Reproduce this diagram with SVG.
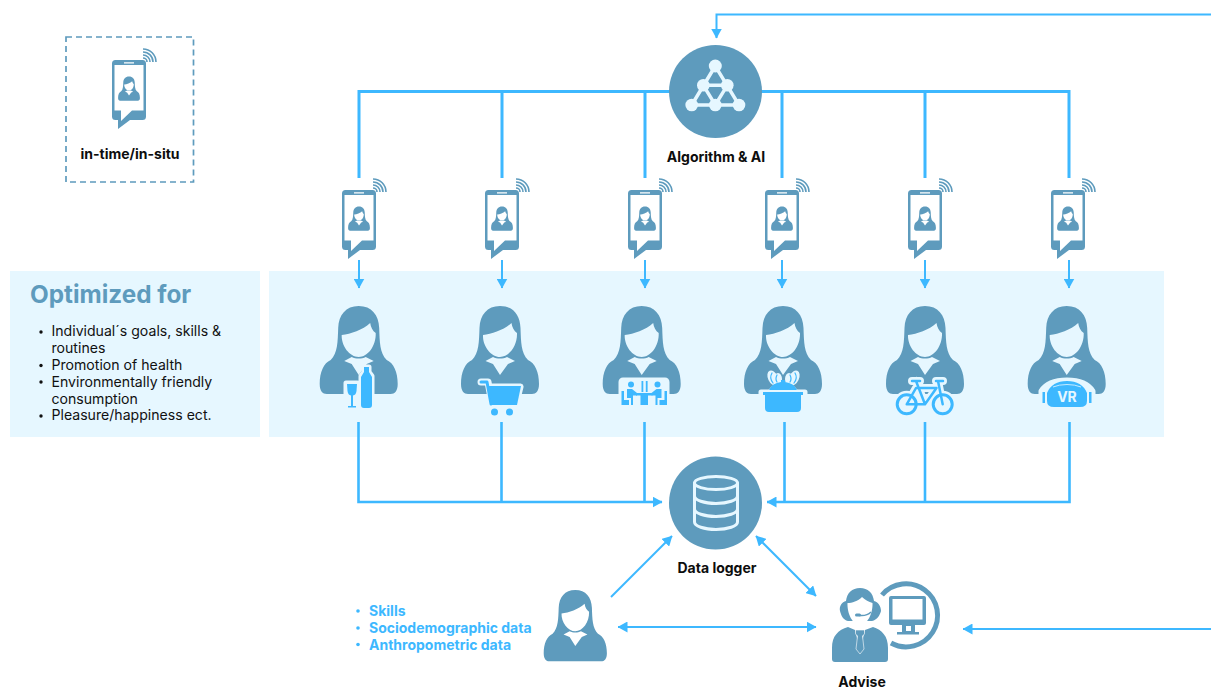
<svg xmlns="http://www.w3.org/2000/svg" xmlns:xlink="http://www.w3.org/1999/xlink" width="1211" height="688" viewBox="0 0 1211 688">
<style>
text{font-family:Inter,"Liberation Sans",sans-serif}
.lb{font-size:14px;font-weight:700;fill:#0d0d0d;text-anchor:middle}
.li{font-size:14.100px;fill:#111}
.sk{font-size:14px;font-weight:700;fill:#3db8ff}
.st{fill:#5e9bbd}
.ic{fill:#3db8ff}
.lt{fill:#e6f7ff}
.ls{fill:none;stroke:#e6f7ff;stroke-width:3;stroke-linecap:round}
.c{fill:none;stroke:#3db8ff;stroke-width:3}
.t{fill:none;stroke:#3db8ff;stroke-width:2}
.m{fill:none;stroke:#3db8ff;stroke-width:2.600}
.h{fill:#e6f7ff;stroke:#e6f7ff;stroke-width:5;stroke-linejoin:round}
.hl{fill:none;stroke:#e6f7ff;stroke-linejoin:round;stroke-linecap:round}
.il{fill:none;stroke:#3db8ff;stroke-linejoin:round;stroke-linecap:round}
</style>
<defs>
<marker id="a" viewBox="0 0 10 11" refX="9.500" refY="5.500" markerWidth="10" markerHeight="11" markerUnits="userSpaceOnUse" orient="auto-start-reverse"><path d="M0 0L10 5.500L0 11Z" fill="#3db8ff"/></marker>
<path id="woman" class="st" fill-rule="evenodd" d="M0 0C-13 0-20 9-20.500 22C-21 36-21 47-28 54C-35 57-39 66-39 78C-39 85-36 88-32 88L32 88C36 88 39 85 39 78C39 66 35 57 28 54C21 47 21 36 20.500 22C20 9 13 0 0 0ZM-17 29C-8 28 4 24 11.500 17C12 21 14 25 17 27C17.500 40 9 51 0 51C-9 51-17.500 40-17 29ZM-14.500 55L-7 51C-3 53 3 53 7 51L15 55L8 58L0 69L-7 58Z"/>
<g id="phone">
<path class="st" fill-rule="evenodd" d="M115.500 60H142.500Q146 60 146 63.500V116.500Q146 120 142.500 120H130L118 129V120H115.500Q112 120 112 116.500V63.500Q112 60 115.500 60ZM114.500 65V110.500H121V121L132 110.500H143.500V65ZM124 62.300V63.500H134V62.300Z"/>
<use xlink:href="#woman" transform="translate(129 76.500) scale(.28 .275)"/>
<g fill="none" stroke="#5e9bbd" stroke-width="1.600"><path d="M143 58A4 4 0 0 1 147 62"/><path d="M143 55A7 7 0 0 1 150 62"/><path d="M143 52A10 10 0 0 1 153 62"/><path d="M143 49A13 13 0 0 1 156 62"/></g>
</g>
</defs>
<rect x="10" y="271" width="250" height="166" fill="#e6f7ff"/>
<rect x="269" y="271" width="895" height="166" fill="#e6f7ff"/>
<g id="connectors">
<path class="c" d="M359 178V91.500H1069V178M502 91.500V178M645 91.500V178M782 91.500V178M925 91.500V178"/>
<path class="t" d="M1211 14.500H716.500V38" marker-end="url(#a)"/>
<path class="t" d="M359 260V288" marker-end="url(#a)"/><path class="t" d="M502 260V288" marker-end="url(#a)"/><path class="t" d="M645 260V288" marker-end="url(#a)"/><path class="t" d="M782 260V288" marker-end="url(#a)"/><path class="t" d="M925 260V288" marker-end="url(#a)"/><path class="t" d="M1069 260V288" marker-end="url(#a)"/>
<path class="m" d="M358.500 422V502H662" marker-end="url(#a)"/>
<path class="m" d="M501.500 422V502M644.500 422V502M925 422V502M784.500 422V502"/>
<path class="m" d="M1069.500 422V502H767" marker-end="url(#a)"/>
<path class="t" d="M611 597L672 536" marker-end="url(#a)"/>
<path class="t" d="M756 536L816 596" marker-start="url(#a)" marker-end="url(#a)"/>
<path class="t" d="M618 627H816" marker-start="url(#a)" marker-end="url(#a)"/>
<path class="t" d="M1211 629H963" marker-end="url(#a)"/>
</g>
<g id="legend">
<rect x="66" y="37" width="127.500" height="145" fill="none" stroke="#5e9bbd" stroke-width="1.700" stroke-dasharray="6 4"/>
<use xlink:href="#phone"/>
<text class="lb" x="130" y="159">in-time/in-situ</text>
</g>
<g id="algorithm">
<circle class="st" cx="715.500" cy="91.500" r="46.500"/>
<path d="M715.300 66L691.700 105H739ZM703.300 85.300H727.300L715.300 105Z" fill="none" stroke="#e6f7ff" stroke-width="3.500"/>
<g class="lt"><circle cx="715.300" cy="66" r="6.500"/><circle cx="703.300" cy="85.300" r="6.300"/><circle cx="727.300" cy="85.300" r="6.300"/><circle cx="691.700" cy="105" r="6.300"/><circle cx="715.300" cy="105" r="6.300"/><circle cx="739" cy="105" r="6.300"/></g>
<text class="lb" x="716" y="162">Algorithm &amp; AI</text>
</g>
<g id="phones">
<use xlink:href="#phone" x="230" y="130"/><use xlink:href="#phone" x="373" y="130"/><use xlink:href="#phone" x="516" y="130"/><use xlink:href="#phone" x="653" y="130"/><use xlink:href="#phone" x="796" y="130"/><use xlink:href="#phone" x="939" y="130"/>
</g>
<g id="optimized">
<text x="30" y="303" font-size="24.300" font-weight="700" fill="#5e9bbd">Optimized for</text>
<g fill="#111"><circle cx="41" cy="332" r="1.700"/><circle cx="41" cy="365.500" r="1.700"/><circle cx="41" cy="382" r="1.700"/><circle cx="41" cy="416" r="1.700"/></g>
<text class="li" x="51.500" y="336">Individual´s goals, skills &amp;</text>
<text class="li" x="51.500" y="353">routines</text>
<text class="li" x="51.500" y="370">Promotion of health</text>
<text class="li" x="51.500" y="386.500">Environmentally friendly</text>
<text class="li" x="51.500" y="403.500">consumption</text>
<text class="li" x="51.500" y="420">Pleasure/happiness ect.</text>
</g>
<g id="user-wine">
<use xlink:href="#woman" x="358.700" y="306"/>
<path class="h" d="M346 383H357.300V408H346ZM361 376L364 372V367H369V372L372 376V408H361Z"/>
<path class="ic" d="M361 377L364 372V367H369V372L372 377V405Q372 408 369 408H364Q361 408 361 405Z"/>
<path class="ic" d="M347 384H357L356.500 391Q356 395 353 395.500V406H356V407.500H348V406H351V395.500Q348 395 347.500 391Z"/>
</g>
<g id="user-cart">
<use xlink:href="#woman" x="500" y="306"/>
<path class="hl" stroke-width="7" d="M481 382H488L492 403H516L520 387H489"/><path class="h" d="M489 387H520L516 405H492Z"/>
<path class="il" stroke-width="3" d="M481 382H487L491 404"/>
<path class="ic" d="M488 386H521L517 405H491Z"/>
<circle class="ic" cx="494.500" cy="412" r="3.500"/><circle class="ic" cx="509.500" cy="412" r="3.500"/>
</g>
<g id="user-dining">
<use xlink:href="#woman" x="641.700" y="306"/>
<rect class="h" x="621" y="380" width="46" height="25" rx="2"/>
<g class="ic">
<circle cx="631" cy="384.500" r="3"/><circle cx="657.500" cy="384.500" r="3"/>
<path d="M627 389H632L637 393V395.500H633V405H631V398H627Z"/><path d="M661.500 389H656.500L651.500 393V395.500H655.500V405H657.500V398H661.500Z"/>
<rect x="636" y="393" width="16.500" height="2.500"/><rect x="640.500" y="395" width="7.500" height="10"/>
<path d="M621.500 391H624V400H629V405H621.500Z"/><path d="M667 391H664.500V400H659.500V405H667Z"/>
<rect x="641.500" y="381" width="1.800" height="11"/><rect x="645.800" y="381" width="1.800" height="11"/>
</g>
</g>
<g id="user-pot">
<use xlink:href="#woman" x="783" y="306"/>
<path class="h" d="M761 392H805V402H801V412H765V402H761Z"/>
<g class="lt"><ellipse cx="773" cy="378" rx="5" ry="8" transform="rotate(-25 773 378)"/><ellipse cx="794" cy="378" rx="5" ry="8" transform="rotate(25 794 378)"/><ellipse cx="778" cy="379" rx="4" ry="6"/><ellipse cx="789" cy="379" rx="4" ry="6"/></g>
<path class="h" d="M770 392Q783 376 796 392Z"/>
<path class="ic" d="M763 392H803V395H801V408Q801 412 797 412H769Q765 412 765 408V395H763Z"/>
<path class="ic" d="M769 390Q772 383 781 382V380H785V382Q794 383 797 390Z"/>
<path class="il" stroke-width="1.200" d="M772 373Q769 378 773 383M777 375Q775 379 777 382M795 373Q798 378 794 383M790 375Q792 379 790 382"/>
</g>
<g id="user-bike">
<use xlink:href="#woman" x="925" y="306"/>
<path class="hl" stroke-width="8" d="M912 381H920M936 381H943M916 381L925 404.300H906.700L916 388H936.500M938 381L942.700 404.300M925 404.300L936.500 388"/>
<circle cx="906.700" cy="404.300" r="10" fill="none" stroke="#e6f7ff" stroke-width="7"/><circle cx="942.700" cy="404.300" r="10" fill="none" stroke="#e6f7ff" stroke-width="7"/>
<circle class="il" stroke-width="3" cx="906.700" cy="404.300" r="9.500"/><circle class="il" stroke-width="3" cx="942.700" cy="404.300" r="9.500"/>
<path class="il" stroke-width="2.500" d="M912 381H920M936 381H943M916 381L925 404.300H906.700L916 388H936.500M938 381L942.700 404.300M925 404.300L936.500 388"/>
</g>
<g id="user-vr">
<use xlink:href="#woman" x="1066.700" y="306"/>
<path class="h" d="M1041 391Q1048 380 1067 380Q1086 380 1093 391V403H1086Q1084 408 1078 408H1056Q1050 408 1048 403H1041Z"/>
<path class="ic" d="M1047 393Q1052 381 1067 381Q1082 381 1087 393V401Q1087 407 1080 407H1054Q1047 407 1047 401Z"/>
<path d="M1053 387Q1059 384.500 1067 384.500Q1075 384.500 1081 387" fill="none" stroke="#e6f7ff" stroke-width=".8"/>
<rect class="ic" x="1042.500" y="392" width="2.500" height="11"/><rect class="ic" x="1089" y="392" width="2.500" height="11"/>
<text x="1067" y="402" font-size="14" font-weight="700" fill="#e6f7ff" text-anchor="middle">VR</text>
</g>
<g id="data-logger">
<circle class="st" cx="715.500" cy="503" r="46.500"/>
<g class="ls"><ellipse cx="716" cy="483" rx="21.500" ry="6.500"/><path d="M694.500 483V522C694.500 526 704 529.500 716 529.500S737.500 526 737.500 522V483"/><path d="M694.500 496C694.500 500 704 503.500 716 503.500S737.500 500 737.500 496M694.500 509C694.500 513 704 516.500 716 516.500S737.500 513 737.500 509"/></g>
<text class="lb" x="717" y="573">Data logger</text>
</g>
<g id="person">
<use xlink:href="#woman" transform="translate(575.300 590) scale(.81)"/>
<g class="ic"><circle cx="358" cy="611" r="1.800"/><circle cx="358" cy="628" r="1.800"/><circle cx="358" cy="644.500" r="1.800"/></g>
<text class="sk" x="369" y="615.500">Skills</text>
<text class="sk" x="369" y="632.500">Sociodemographic data</text>
<text class="sk" x="369" y="649.500">Anthropometric data</text>
</g>
<g id="advise">
<path class="st" d="M860 588C852 588 847 593 846 601C842 602 839 606 840 611C841 615 843 620 848 621H872C877 620 880 615 881 611C881 606 878 602 874 601C873 593 868 588 860 588Z"/>
<path d="M847.500 603C852 603 858 601 862 597C865 600 869 602 872.500 603C873 614 867 625 860 625C853 625 847 614 847.500 603Z" fill="#fff"/>
<path d="M857 615Q866 617 871 612" fill="none" stroke="#5e9bbd" stroke-width="1.500"/><rect class="st" x="855" y="613.500" width="6" height="3" rx="1.500"/>
<path class="st" d="M848 627L855 630L860 650L865 630L873 627C882 630 888 636 888 648V659Q888 662 885 662H835Q832 662 832 659V648C832 636 838 630 848 627Z"/>
<path class="st" d="M855.500 630H864.500V634L862.500 636L864 649L860 654L856 649L857.500 636L855.500 634Z" stroke="#fff" stroke-width=".6"/>
<path d="M882 595A31.500 31.500 0 1 1 891 643" fill="none" stroke="#5e9bbd" stroke-width="5"/>
<path class="st" fill-rule="evenodd" d="M891 596H924Q926 596 926 598V623Q926 625 924 625H915V632H919V634.500H897V632H902V625H891Q889 625 889 623V598Q889 596 891 596ZM892.500 599V619.500H922.500V599ZM906 626V631H911V626Z"/>
<text class="lb" x="862" y="686.500">Advise</text>
</g>
</svg>
